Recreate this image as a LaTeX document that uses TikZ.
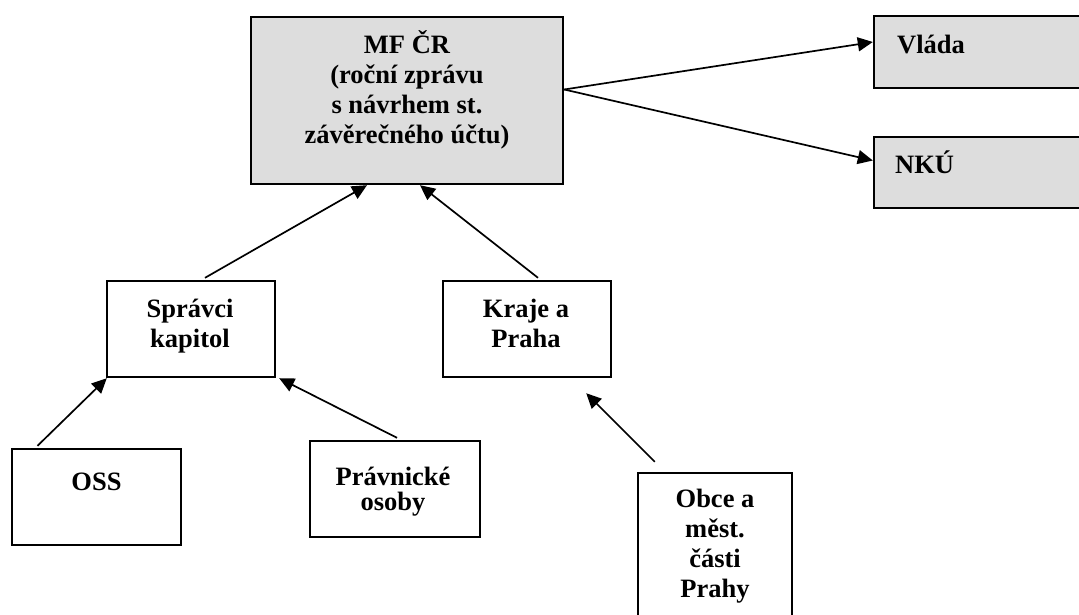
\documentclass[tikz,border=0pt]{standalone}
\usepackage{fontspec}
\setmainfont{Liberation Serif}
\usetikzlibrary{arrows.meta}
\definecolor{boxgrey}{RGB}{221,221,221}
\tikzset{
  box/.style={draw,line width=2.4pt,inner sep=0pt},
  greybox/.style={box,fill=boxgrey},
  txt/.style={font=\bfseries\fontsize{26.5}{30}\selectfont,align=center,inner sep=0pt,anchor=base},
  arr/.style={-{Triangle[length=15pt,width=14pt]},line width=1.7pt}
}
\begin{document}
\begin{tikzpicture}[x=1pt,y=-1pt]
		\clip (0,0) rectangle (1079,614);
		%boxes
		\node[greybox,minimum width=312pt,minimum height=167pt] (mf) at (407,100.5) {};
		\node[greybox,minimum width=236pt,minimum height=72pt] (vl) at (992,52) {};
		\node[greybox,minimum width=236pt,minimum height=71pt] (nku) at (992,172.5) {};
		\node[box,minimum width=168pt,minimum height=96pt] (spr) at (191,329) {};
		\node[box,minimum width=168pt,minimum height=96pt] (kr) at (527,329) {};
		\node[box,minimum width=169pt,minimum height=96pt] (oss) at (96.5,497) {};
		\node[box,minimum width=170pt,minimum height=96pt] (pr) at (395,489) {};
		\node[box,minimum width=154pt,minimum height=167pt] (ob) at (715,556.5) {};
		%texts (base = last line)
		\node[txt] (mft) at (407,143) {MF ČR\\(roční zprávu\\s návrhem st.\\závěrečného účtu)};
		\node[txt,anchor=base west] (vlt) at (897,53) {Vláda};
		\node[txt,anchor=base west] (nkut) at (895,173) {NKÚ};
		\node[txt] (sprt) at (190,347) {Správci\\kapitol};
		\node[txt] (krt) at (526,347) {Kraje a\\Praha};
		\node[txt] (osst) at (96.5,490) {OSS};
		\node[txt,font=\bfseries\fontsize{26.5}{25}\selectfont] (prt) at (393,510) {Právnické\\osoby};
		\node[txt] (obt) at (715,597) {Obce a\\měst.\\části\\Prahy};
		%free arrow ends
		\coordinate (obtail) at ([xshift=18pt,yshift=10pt]ob.north west);
		\coordinate (krtip) at ([xshift=-26pt,yshift=-15pt]kr.south east);
		%arrows
		\draw[arr] ([yshift=11pt]mf.east) -- ([yshift=10pt]vl.west);
		\draw[arr] ([yshift=11pt]mf.east) -- ([yshift=12pt]nku.west);
		\draw[arr] ([xshift=14pt,yshift=2pt]spr.north) -- ([xshift=-40pt]mf.south);
		\draw[arr] ([xshift=11pt,yshift=2pt]kr.north) -- ([xshift=13pt]mf.south);
		\draw[arr] ([xshift=-59pt,yshift=2pt]oss.north) -- ([xshift=1pt]spr.south west);
		\draw[arr] ([xshift=2pt,yshift=2pt]pr.north) -- ([xshift=3pt]spr.south east);
		\draw[arr] (obtail) -- (krtip);
\end{tikzpicture}
\end{document}
